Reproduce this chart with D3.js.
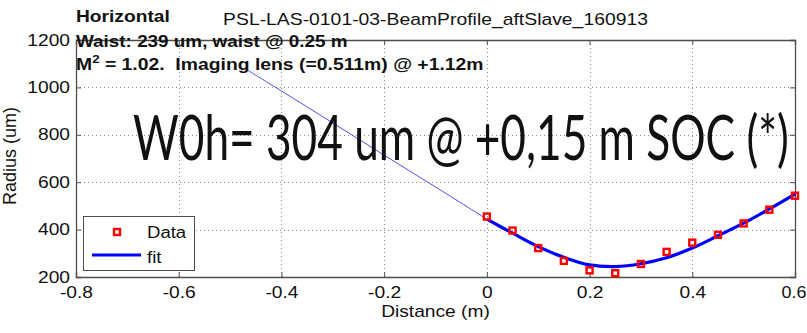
<!DOCTYPE html>
<html>
<head>
<meta charset="utf-8">
<script src="https://cdn.jsdelivr.net/npm/d3@7"></script>
<style>
  body { margin: 0; background: #fff; }
  text { font-family: Arial, "Liberation Sans", sans-serif; fill: #111; }
</style>
</head>
<body>
<svg id="chart" width="807" height="333"></svg>
<script>
// measured beam radius (um) vs distance (m)
const dataX = [0, 0.05, 0.1, 0.15, 0.2, 0.25, 0.3, 0.35, 0.4, 0.45, 0.5, 0.55, 0.6];
const dataY = [455, 396, 322, 268, 228, 216, 255, 306, 345, 378, 426, 484, 543];

// fit curve, thin extrapolated part then thick fitted part
const fitBackX = [-0.469, -0.4, -0.3, -0.2, -0.1, 0];
const fitBackY = [1077, 985, 850, 714, 580, 444];
const fitX = [0, 0.05, 0.1, 0.15, 0.2, 0.25, 0.3, 0.35, 0.4, 0.45, 0.5, 0.55, 0.6];
const fitY = [444, 385, 328, 283, 251, 244, 256, 281, 322, 374, 427, 487, 550];

const xTicks = [-0.8, -0.6, -0.4, -0.2, 0, 0.2, 0.4, 0.6];
const yTicks = [200, 400, 600, 800, 1000, 1200];

const svg = d3.select("#chart");
const margin = {left: 76, right: 12, top: 40, bottom: 56};
const width = 807, height = 333;
const sx = 1.2; // the figure text is a bit wide

const x = d3.scaleLinear().domain([-0.8, 0.6]).range([margin.left, width - margin.right]);
const y = d3.scaleLinear().domain([200, 1200]).range([height - margin.bottom, margin.top]);

const axisColor = "#4d4d4d";

// place a text at (px,py) stretched horizontally
function label(px, py, str, opts = {}) {
  const t = svg.append("text")
      .attr("transform", `translate(${px},${py}) scale(${opts.sx || sx},1)`)
      .attr("text-anchor", opts.anchor || "start")
      .style("font-size", (opts.size || 16) + "px")
      .style("font-weight", opts.bold ? "bold" : null);
  if (str) t.text(str);
  return t;
}

// grid
const grid = svg.append("g").attr("stroke", "#8a8a8a").attr("stroke-dasharray", "1,3").attr("stroke-width", 1);
grid.selectAll(".gx").data(xTicks.slice(1, -1)).enter().append("line")
    .attr("x1", d => Math.round(x(d)) + 0.5).attr("x2", d => Math.round(x(d)) + 0.5)
    .attr("y1", y(1200)).attr("y2", y(200));
grid.selectAll(".gy").data(yTicks.slice(1, -1)).enter().append("line")
    .attr("y1", d => Math.round(y(d)) + 0.5).attr("y2", d => Math.round(y(d)) + 0.5)
    .attr("x1", x(-0.8)).attr("x2", x(0.6));

// axes (ticks inward, on all four sides)
const fmtX = d => d === 0 ? "0" : d3.format(".1f")(d).replace("−", "-");
const gBottom = svg.append("g").attr("transform", `translate(0,${y(200)})`)
    .call(d3.axisBottom(x).tickValues(xTicks).tickSize(-5).tickPadding(10).tickFormat(fmtX));
const gTop = svg.append("g").attr("transform", `translate(0,${y(1200)})`)
    .call(d3.axisTop(x).tickValues(xTicks).tickSize(-5).tickFormat(""));
const gLeft = svg.append("g").attr("transform", `translate(${x(-0.8)},0)`)
    .call(d3.axisLeft(y).tickValues(yTicks).tickSize(-5).tickFormat(d3.format("d")));
const gRight = svg.append("g").attr("transform", `translate(${x(0.6)},0)`)
    .call(d3.axisRight(y).tickValues(yTicks).tickSize(-5).tickFormat(""));

[gBottom, gTop, gLeft, gRight].forEach(g => {
  g.select(".domain").attr("stroke", axisColor).attr("stroke-width", 1.3);
  g.selectAll(".tick line").attr("stroke", axisColor);
  g.selectAll("text").attr("fill", "#111").style("font-size", "16px")
    .style("font-family", "Arial, 'Liberation Sans', sans-serif")
    .attr("transform", `scale(${sx},1)`);
});
gLeft.selectAll("text").attr("x", -6 / sx);
// last x label sits on the window edge: keep it inside
gBottom.selectAll(".tick").filter(d => d === 0.6).select("text")
    .attr("text-anchor", "end").attr("transform", "scale(1.12,1)").attr("x", 11 / 1.12);

// fit lines
const line = d3.line().x(d => x(d[0])).y(d => y(d[1])).curve(d3.curveCatmullRom);
svg.append("path")
    .datum(fitBackX.map((v, i) => [v, fitBackY[i]]))
    .attr("d", line).attr("fill", "none").attr("stroke", "#3a3aff").attr("stroke-width", 0.9);
svg.append("path")
    .datum(fitX.map((v, i) => [v, fitY[i]]))
    .attr("d", line).attr("fill", "none").attr("stroke", "#0000ff").attr("stroke-width", 3.2);

// data markers
svg.selectAll(".pt").data(dataX.map((v, i) => [v, dataY[i]])).enter().append("rect")
    .attr("x", d => x(d[0]) - 3).attr("y", d => y(d[1]) - 3)
    .attr("width", 6).attr("height", 6)
    .attr("fill", "none").attr("stroke", "#ff0000").attr("stroke-width", 2.4);

// axis labels
label((x(-0.8) + x(0.6)) / 2, 317, "Distance (m)", {anchor: "middle"});
svg.append("text").attr("transform", `translate(16,156) rotate(-90)`)
    .attr("text-anchor", "middle").style("font-size", "18px").text("Radius (um)");

// title and annotations
label((x(-0.8) + x(0.6)) / 2, 25, "PSL-LAS-0101-03-BeamProfile_aftSlave_160913", {anchor: "middle", sx: 1.21});
label(76, 22, "Horizontal", {bold: true});
label(76, 47, "Waist: 239 um, waist @ 0.25 m", {bold: true, sx: 1.18});
const m2 = label(76, 70, null, {bold: true, sx: 1.21});
m2.append("tspan").text("M");
m2.append("tspan").attr("dy", -7).style("font-size", "11px").text("2");
m2.append("tspan").attr("dy", 7).text(" = 1.02.\u00a0 Imaging lens (=0.511m) @ +1.12m");

const big = svg.append("text")
    .style("font-family", "Lato, 'Open Sans', sans-serif").style("font-size", "61px")
    .text("W0h= 304 um @ +0,15 m SOC (*)");
const bigW = big.node().getComputedTextLength();
big.attr("transform", `translate(133,160) scale(${656 / bigW},1)`);

// legend
const lg = svg.append("g");
lg.append("rect").attr("x", 83.5).attr("y", 216.5).attr("width", 111).attr("height", 54)
    .attr("fill", "#fff").attr("stroke", axisColor).attr("stroke-width", 1);
lg.append("rect").attr("x", 114).attr("y", 229).attr("width", 6).attr("height", 6)
    .attr("fill", "none").attr("stroke", "#ff0000").attr("stroke-width", 2.4);
lg.append("line").attr("x1", 92).attr("x2", 141).attr("y1", 255).attr("y2", 255)
    .attr("stroke", "#0000ff").attr("stroke-width", 3.2);
label(147, 238, "Data", {sx: 1.16});
label(147, 263, "fit", {sx: 1.16});
</script>
</body>
</html>
